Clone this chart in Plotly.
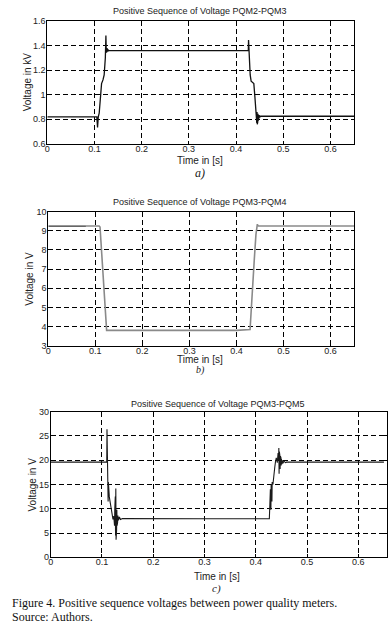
import plotly.graph_objects as go

W, H = 389, 629

# ---- data ----
a_t = [0.000, 0.105, 0.1065, 0.1075, 0.108, 0.110, 0.113, 0.115, 0.118, 0.1205,
       0.123, 0.1242, 0.1248, 0.1255, 0.1262, 0.1268, 0.1275, 0.1282, 0.129, 0.131,
       0.20, 0.30, 0.40, 0.426, 0.4265, 0.4275, 0.4300, 0.4320, 0.4350, 0.4377,
       0.4400, 0.4420, 0.4432, 0.4440, 0.4445, 0.4450, 0.4455, 0.4460, 0.4465, 0.4470,
       0.4475, 0.4480, 0.4490, 0.4500, 0.4520, 0.455, 0.650]
a_v = [0.820, 0.820, 0.735, 0.800, 0.820, 0.850, 0.980, 1.090, 1.120, 1.160,
       1.300, 1.480, 1.380, 1.340, 1.375, 1.345, 1.370, 1.350, 1.362, 1.358,
       1.357, 1.357, 1.357, 1.357, 1.443, 1.300, 1.160, 1.110, 1.100, 1.090,
       0.980, 0.880, 0.840, 0.770, 0.860, 0.760, 0.850, 0.780, 0.845, 0.790,
       0.840, 0.800, 0.835, 0.815, 0.826, 0.825, 0.825]

b_t = [0.080, 0.108, 0.110, 0.112, 0.1145, 0.117, 0.120, 0.1235, 0.124, 0.20,
       0.30, 0.40, 0.429, 0.4315, 0.4345, 0.438, 0.4415, 0.4445, 0.4455, 0.447,
       0.50, 0.65]
b_v = [9.25, 9.25, 9.20, 8.40, 7.30, 6.20, 4.90, 3.85, 3.80, 3.80,
       3.80, 3.80, 3.85, 5.00, 6.00, 7.50, 8.80, 9.35, 9.28, 9.25,
       9.25, 9.25]
b_black_t = [0.000, 0.080]
b_black_v = [9.25, 9.25]

c_t = [0.000, 0.1093, 0.1098, 0.1102, 0.1106, 0.1110, 0.1115, 0.112, 0.1125, 0.113,
       0.1135, 0.1143, 0.115, 0.117, 0.119, 0.1215, 0.123, 0.1245, 0.125, 0.1255,
       0.126, 0.1265, 0.127, 0.1275, 0.128, 0.1285, 0.129, 0.1295, 0.130, 0.1305,
       0.131, 0.132, 0.134, 0.136, 0.140, 0.20, 0.30, 0.40, 0.4265, 0.4275,
       0.4285, 0.4295, 0.430, 0.4305, 0.431, 0.4315, 0.432, 0.4335, 0.435, 0.437,
       0.4385, 0.440, 0.442, 0.4435, 0.4445, 0.445, 0.4455, 0.446, 0.4465, 0.447,
       0.4475, 0.448, 0.4485, 0.449, 0.4495, 0.450, 0.451, 0.452, 0.453, 0.455,
       0.458, 0.46, 0.65]
c_v = [19.6, 19.6, 26.4, 20.0, 22.0, 12.0, 16.5, 11.5, 15.5, 13.0,
       14.9, 12.5, 12.0, 10.5, 9.0, 7.8, 8.5, 6.5, 10.0, 5.0,
       12.5, 4.5, 14.2, 3.6, 11.0, 5.5, 9.8, 6.5, 9.0, 7.2,
       8.6, 7.6, 8.3, 7.8, 8.0, 7.95, 7.95, 7.95, 7.95, 11.0,
       14.0, 9.8, 15.0, 10.5, 14.9, 11.5, 15.5, 15.0, 17.0, 18.5,
       19.7, 20.5, 19.5, 21.5, 20.0, 22.5, 17.2, 21.8, 18.0, 21.0,
       18.2, 20.8, 18.5, 20.6, 18.9, 20.3, 19.2, 20.0, 19.4, 19.8,
       19.5, 19.6, 19.6]

x_ticks = [0, 0.1, 0.2, 0.3, 0.4, 0.5, 0.6]
a_yticks = [0.6, 0.8, 1, 1.2, 1.4, 1.6]
b_yticks = [3, 4, 5, 6, 7, 8, 9, 10]
c_yticks = [0, 5, 10, 15, 20, 25, 30]

titles = ["Positive Sequence of Voltage PQM2-PQM3",
          "Positive Sequence of Voltage PQM3-PQM4",
          "Positive Sequence of Voltage PQM3-PQM5"]
ylabels = ["Voltage in kV", "Voltage in V", "Voltage in V"]
xlabel = "Time in [s]"
panel_labels = ["a)", "b)", "c)"]
caption1 = "Figure 4. Positive sequence voltages between power quality meters."
caption2 = "Source: Authors."

# ---- layout geometry (pixels) ----
def px(x):
    return x / W

def py(y):
    return 1 - y / H

panels = [
    dict(l=47.3, r=354.0, t=20.7, b=144.0, xr=[0, 0.65], yr=[0.6, 1.6]),
    dict(l=48.3, r=354.0, t=211.7, b=345.7, xr=[0, 0.65], yr=[3, 10]),
    dict(l=50.7, r=386.5, t=411.7, b=557.3, xr=[0, 0.655], yr=[0, 30]),
]

fig = go.Figure()
fig.add_trace(go.Scatter(x=a_t, y=a_v, mode="lines", line=dict(color="#111111", width=1.3),
                         xaxis="x", yaxis="y", showlegend=False))
fig.add_trace(go.Scatter(x=b_t, y=b_v, mode="lines", line=dict(color="#8a8a8a", width=1.6),
                         xaxis="x2", yaxis="y2", showlegend=False))
fig.add_trace(go.Scatter(x=b_black_t, y=b_black_v, mode="lines", line=dict(color="#333333", width=1.3),
                         xaxis="x2", yaxis="y2", showlegend=False))
fig.add_trace(go.Scatter(x=c_t, y=c_v, mode="lines", line=dict(color="#1a1a1a", width=1.1),
                         xaxis="x3", yaxis="y3", showlegend=False))

tickfont = dict(family="Liberation Sans, Arial, sans-serif", size=9, color="#222222")
yticks_all = [a_yticks, b_yticks, c_yticks]
layout = dict(width=W, height=H, margin=dict(l=0, r=0, t=0, b=0, pad=0, autoexpand=False),
              paper_bgcolor="white", plot_bgcolor="white", showlegend=False)

for i, p in enumerate(panels):
    sx = "" if i == 0 else str(i + 1)
    common = dict(showline=True, linecolor="black", linewidth=1, mirror="ticks",
                  ticks="inside", ticklen=3, tickcolor="black", tickfont=tickfont,
                  showgrid=True, gridcolor="black", griddash="5px,3px", gridwidth=1,
                  zeroline=False, fixedrange=True, automargin=False)
    layout["xaxis" + sx] = dict(domain=[px(p["l"]), px(p["r"])], range=p["xr"],
                                anchor="y" + sx, tickvals=x_ticks, ticklabelstandoff=-4,
                                ticktext=[("0" if v == 0 else f"{v:g}") for v in x_ticks],
                                **common)
    layout["yaxis" + sx] = dict(domain=[py(p["b"]), py(p["t"])], range=p["yr"],
                                anchor="x" + sx, tickvals=yticks_all[i], ticklabelstandoff=-1,
                                ticktext=[f"{v:g}" for v in yticks_all[i]], **common)

annots = []
title_y = [11, 202, 404]
xlab_y = [160, 359, 576]
panel_y = [173, 369.5, 588]
panel_size = [12, 10, 11]
ylab_x = [27, 30, 32]
for i, p in enumerate(panels):
    annots.append(dict(text=titles[i], x=px(200 if i < 2 else 218), y=py(title_y[i]),
                       xref="paper", yref="paper", showarrow=False, xanchor="center", yanchor="middle",
                       font=dict(family="Liberation Sans, Arial, sans-serif", size=9, color="#222222")))
    annots.append(dict(text=xlabel, x=px(200 if i < 2 else 217), y=py(xlab_y[i]),
                       xref="paper", yref="paper", showarrow=False, xanchor="center", yanchor="middle",
                       font=dict(family="Liberation Sans, Arial, sans-serif", size=10, color="#222222")))
    annots.append(dict(text=ylabels[i], x=px(ylab_x[i]), y=py((p["t"] + p["b"]) / 2),
                       xref="paper", yref="paper", showarrow=False, textangle=-90,
                       xanchor="center", yanchor="middle",
                       font=dict(family="Liberation Sans, Arial, sans-serif", size=10, color="#222222")))
    annots.append(dict(text="<i>" + panel_labels[i] + "</i>", x=px(200 if i < 2 else 216), y=py(panel_y[i]),
                       xref="paper", yref="paper", showarrow=False, xanchor="center", yanchor="middle",
                       font=dict(family="Liberation Serif, Times New Roman, serif", size=panel_size[i],
                                 color="#222222")))

annots.append(dict(text=caption1, x=px(10), y=py(603), xref="paper", yref="paper", showarrow=False,
                   xanchor="left", yanchor="middle",
                   font=dict(family="Liberation Serif, Times New Roman, serif", size=12, color="#111111")))
annots.append(dict(text=caption2, x=px(10), y=py(617), xref="paper", yref="paper", showarrow=False,
                   xanchor="left", yanchor="middle",
                   font=dict(family="Liberation Serif, Times New Roman, serif", size=12, color="#111111")))
layout["annotations"] = annots

fig.update_layout(**layout)
fig.write_html("out.html", config={"displayModeBar": False},
               post_script="document.body.style.margin='0';document.body.style.overflow='hidden';")
